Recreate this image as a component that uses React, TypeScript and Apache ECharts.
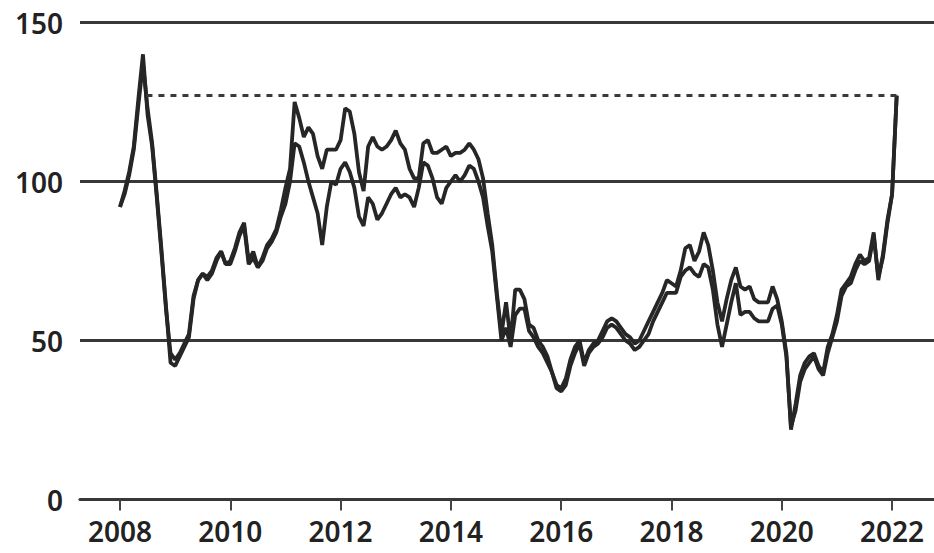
import React, { useEffect, useRef } from "react";
import * as echarts from "echarts";

// Monthly values, Jan 2008 .. Feb 2022
const upperSeries: number[] = [
  // 2008
  92, 97, 103, 111, 126, 140, 121, 111, 95, 78, 60, 46,
  // 2009
  44, 46, 49, 52, 64, 69, 71, 70, 72, 76, 78, 74,
  // 2010
  75, 79, 84, 87, 75, 78, 73, 76, 80, 82, 85, 91,
  // 2011
  98, 104, 125, 120, 114, 117, 115, 108, 104, 110, 110, 110,
  // 2012
  113, 123, 122, 115, 103, 97, 111, 114, 111, 110, 111, 113,
  // 2013
  116, 112, 110, 104, 101, 101, 112, 113, 109, 109, 110, 111,
  // 2014
  108, 109, 109, 110, 112, 110, 107, 101, 90, 80, 65, 52,
  // 2015
  62, 50, 66, 66, 63, 55, 54, 50, 48, 45, 40, 36,
  // 2016
  35, 38, 44, 48, 50, 43, 47, 49, 50, 53, 56, 57,
  // 2017
  56, 54, 52, 51, 49, 50, 53, 56, 59, 62, 65, 69,
  // 2018
  68, 67, 72, 79, 80, 75, 78, 84, 80, 72, 62, 56,
  // 2019
  63, 69, 73, 67, 66, 67, 63, 62, 62, 62, 67, 63,
  // 2020
  56, 46, 22, 30, 39, 43, 45, 46, 42, 40, 48, 52,
  // 2021
  58, 66, 68, 70, 74, 77, 75, 76, 84, 69, 77, 88,
  // 2022
  96, 127,
];

const lowerSeries: number[] = [
  // 2008
  92, 96, 102, 110, 124, 137, 123, 112, 96, 79, 61, 43,
  // 2009
  42, 45, 48, 51, 63, 69, 71, 69, 71, 75, 78, 74,
  // 2010
  74, 78, 83, 86, 74, 76, 73, 75, 79, 81, 84, 89,
  // 2011
  93, 100, 112, 111, 106, 100, 95, 90, 80, 92, 100, 99,
  // 2012
  104, 106, 103, 98, 89, 86, 95, 93, 88, 90, 93, 96,
  // 2013
  98, 95, 96, 95, 92, 98, 106, 105, 101, 95, 93, 98,
  // 2014
  100, 102, 100, 102, 105, 104, 100, 95, 86, 78, 64, 50,
  // 2015
  54, 48, 58, 60, 60, 53, 51, 48, 46, 43, 40, 35,
  // 2016
  34, 36, 42, 46, 49, 42, 46, 48, 49, 51, 54, 55,
  // 2017
  54, 52, 50, 49, 47, 48, 50, 52, 56, 59, 62, 65,
  // 2018
  65, 65, 70, 72, 73, 71, 70, 74, 73, 66, 55, 48,
  // 2019
  55, 62, 68, 58, 59, 59, 57, 56, 56, 56, 60, 61,
  // 2020
  55, 45, 23, 28, 37, 41, 43, 45, 41, 39, 46, 51,
  // 2021
  56, 64, 67, 68, 72, 75, 74, 75, 83, 70, 76, 87,
  // 2022
  96, 127,
];

const startYear = 2008;
const xTickLabels: number[] = [2008, 2010, 2012, 2014, 2016, 2018, 2020, 2022];
const yTicks: number[] = [0, 50, 100, 150];
// reference (dashed) level: latest value, drawn from where the 2008 fall crossed it
const refLevel = 127;
const refStart = 2008.48;

const monthX = (i: number) => startYear + i / 12;

export default function App() {
  const ref = useRef<HTMLDivElement>(null);
  useEffect(() => {
    if (!ref.current) return;
    const chart = echarts.init(ref.current, undefined, { renderer: "svg" });
    const upper = upperSeries.map((v, i) => [monthX(i), v]);
    const lower = lowerSeries.map((v, i) => [monthX(i), v]);
    const lastX = monthX(upperSeries.length - 1);
    const ink = "#262626";
    const gridInk = "#383838";
    const font = "'Noto Sans', 'DejaVu Sans', sans-serif";
    chart.setOption({
      animation: false,
      backgroundColor: "#ffffff",
      grid: { left: 80, right: 0, top: 22.5, bottom: 53.5, containLabel: false },
      xAxis: {
        type: "value",
        min: 2007.275,
        max: 2022.76,
        axisLine: { show: true, onZero: true, lineStyle: { color: gridInk, width: 3.2 } },
        axisTick: {
          show: true,
          customValues: xTickLabels,
          length: 11,
          lineStyle: { color: "#444", width: 2 },
        },
        axisLabel: {
          show: true,
          customValues: xTickLabels,
          formatter: (v: number) => String(Math.round(v)),
          color: "#222",
          fontFamily: font,
          fontWeight: 600,
          fontSize: 28,
          margin: 17,
        },
        splitLine: { show: false },
      },
      yAxis: {
        type: "value",
        min: 0,
        max: 150,
        interval: 50,
        axisLine: { show: false },
        axisTick: { show: false },
        axisLabel: {
          color: "#222",
          fontFamily: font,
          fontWeight: 600,
          fontSize: 28,
          margin: 17,
          formatter: (v: number) => (yTicks.includes(v) ? String(v) : ""),
        },
        splitLine: { show: true, lineStyle: { color: gridInk, width: 3.2 } },
      },
      series: [
        {
          type: "line",
          data: lower,
          showSymbol: false,
          symbol: "none",
          lineStyle: { color: ink, width: 3.8 },
          z: 3,
        },
        {
          type: "line",
          data: upper,
          showSymbol: false,
          symbol: "none",
          lineStyle: { color: ink, width: 3.8 },
          z: 4,
          markLine: {
            silent: true,
            symbol: "none",
            label: { show: false },
            lineStyle: { type: [6, 6], color: "#3a3a3a", width: 3 },
            data: [[{ coord: [refStart, refLevel] }, { coord: [lastX, refLevel] }]],
          },
        },
      ],
    });
    return () => chart.dispose();
  }, []);
  return (
    <div
      ref={ref}
      style={{ position: "fixed", left: 0, top: 0, width: 934, height: 553, background: "#fff" }}
    />
  );
}
